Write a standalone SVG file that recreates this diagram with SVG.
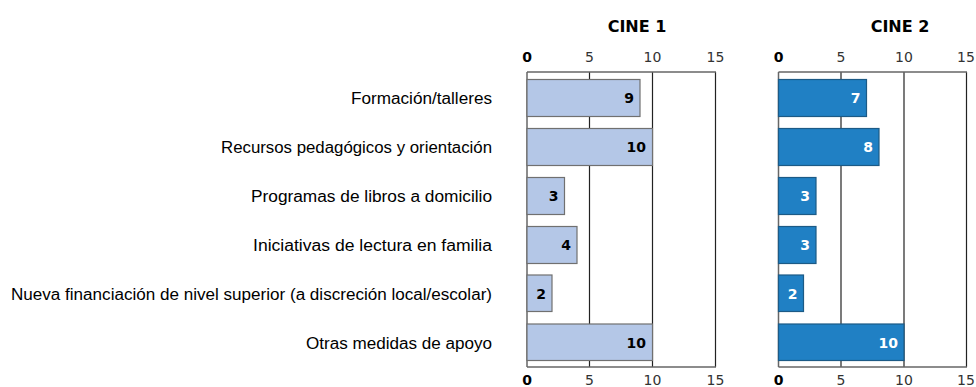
<svg xmlns="http://www.w3.org/2000/svg" width="976" height="387" viewBox="0 0 976 387">
<style>
.cat{font-family:"Liberation Sans",Arial,sans-serif;font-size:16px;fill:#000;text-anchor:end}
.tick{font-family:"DejaVu Sans",sans-serif;font-size:14px;fill:#333;text-anchor:middle}
.tick0{font-family:"DejaVu Sans",sans-serif;font-size:14px;font-weight:bold;fill:#000;text-anchor:middle}
.title{font-family:"DejaVu Sans",sans-serif;font-size:16px;font-weight:bold;fill:#000;text-anchor:middle}
.grid{stroke:#222;stroke-width:1.2}
.axis{stroke:#666;stroke-width:1.5}
.b1{fill:#b4c7e7;stroke:#707070;stroke-width:1.2}
.b2{fill:#2080c4;stroke:#1c5a86;stroke-width:1.2}
.v1{font-family:"DejaVu Sans",sans-serif;font-size:14px;font-weight:bold;fill:#000;text-anchor:end}
.v2{font-family:"DejaVu Sans",sans-serif;font-size:14px;font-weight:bold;fill:#fff;text-anchor:end}
</style>
<g id="labels">
<text class="cat" x="492" y="103.5" textLength="141" lengthAdjust="spacingAndGlyphs">Formación/talleres</text>
<text class="cat" x="492" y="152.5" textLength="271" lengthAdjust="spacingAndGlyphs">Recursos pedagógicos y orientación</text>
<text class="cat" x="492" y="201.5" textLength="241" lengthAdjust="spacingAndGlyphs">Programas de libros a domicilio</text>
<text class="cat" x="492" y="250.5" textLength="239" lengthAdjust="spacingAndGlyphs">Iniciativas de lectura en familia</text>
<text class="cat" x="492" y="299.5" textLength="481" lengthAdjust="spacingAndGlyphs">Nueva financiación de nivel superior (a discreción local/escolar)</text>
<text class="cat" x="492" y="348.5" textLength="186" lengthAdjust="spacingAndGlyphs">Otras medidas de apoyo</text>
</g>
<g id="panel1">
<text class="title" x="637" y="32">CINE 1</text>
<text class="tick0" x="527" y="62">0</text>
<text class="tick" x="589.5" y="62">5</text>
<text class="tick" x="652.5" y="62">10</text>
<text class="tick" x="715.5" y="62">15</text>
<text class="tick0" x="527" y="384.5">0</text>
<text class="tick" x="589.5" y="384.5">5</text>
<text class="tick" x="652.5" y="384.5">10</text>
<text class="tick" x="715.5" y="384.5">15</text>
<line class="grid" x1="589.5" y1="72" x2="589.5" y2="367"/>
<line class="grid" x1="652.5" y1="72" x2="652.5" y2="367"/>
<line class="grid" x1="715.5" y1="72" x2="715.5" y2="367"/>
<line class="axis" x1="527" y1="72" x2="716" y2="72"/>
<line class="axis" x1="527" y1="367" x2="716" y2="367"/>
<line class="axis" x1="527" y1="72" x2="527" y2="367"/>
<rect class="b1" x="527" y="79.5" width="113" height="37"/>
<text class="v1" x="634" y="103">9</text>
<rect class="b1" x="527" y="128.5" width="125.5" height="37"/>
<text class="v1" x="646" y="152">10</text>
<rect class="b1" x="527" y="177.5" width="37.5" height="37"/>
<text class="v1" x="558.5" y="201">3</text>
<rect class="b1" x="527" y="226.5" width="50" height="37"/>
<text class="v1" x="571" y="250">4</text>
<rect class="b1" x="527" y="275" width="25" height="36.5"/>
<text class="v1" x="546" y="299">2</text>
<rect class="b1" x="527" y="324" width="125.5" height="36.5"/>
<text class="v1" x="646" y="348">10</text>
</g>
<g id="panel2">
<text class="title" x="900" y="32">CINE 2</text>
<text class="tick0" x="778.5" y="62">0</text>
<text class="tick" x="841" y="62">5</text>
<text class="tick" x="904" y="62">10</text>
<text class="tick" x="966" y="62">15</text>
<text class="tick0" x="778.5" y="384.5">0</text>
<text class="tick" x="841" y="384.5">5</text>
<text class="tick" x="904" y="384.5">10</text>
<text class="tick" x="966" y="384.5">15</text>
<line class="grid" x1="841" y1="72" x2="841" y2="367"/>
<line class="grid" x1="904" y1="72" x2="904" y2="367"/>
<line class="grid" x1="966.5" y1="72" x2="966.5" y2="367"/>
<line class="axis" x1="778.5" y1="72" x2="967" y2="72"/>
<line class="axis" x1="778.5" y1="367" x2="967" y2="367"/>
<line class="axis" x1="778.5" y1="72" x2="778.5" y2="367"/>
<rect class="b2" x="778.5" y="79.5" width="88" height="37"/>
<text class="v2" x="860.5" y="103">7</text>
<rect class="b2" x="778.5" y="128.5" width="100.5" height="37"/>
<text class="v2" x="873" y="152">8</text>
<rect class="b2" x="778.5" y="177.5" width="37.5" height="37"/>
<text class="v2" x="810" y="201">3</text>
<rect class="b2" x="778.5" y="226.5" width="37.5" height="37"/>
<text class="v2" x="810" y="250">3</text>
<rect class="b2" x="778.5" y="275" width="25" height="36.5"/>
<text class="v2" x="797.5" y="299">2</text>
<rect class="b2" x="778.5" y="324" width="125.5" height="36.5"/>
<text class="v2" x="898" y="348">10</text>
</g>
</svg>
